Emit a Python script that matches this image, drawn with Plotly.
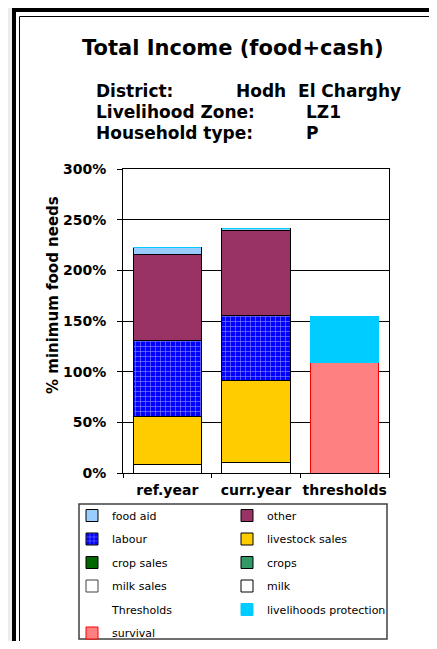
import plotly.graph_objects as go

# ---------------- data ----------------
categories = ["ref.year", "curr.year", "thresholds"]
milk = [8, 10, 0]
milk_sales = [0, 0, 0]
crops = [0, 0, 0]
crop_sales = [0, 0, 0]
livestock_sales = [48, 81, 0]
labour = [75, 64, 0]
other = [85, 84, 0]
food_aid = [7, 2, 0]
survival = [0, 0, 109]
livelihoods_protection = [0, 0, 45]
thresholds_dummy = [0, 0, 0]
y_ticks = [0, 50, 100, 150, 200, 250, 300]
y_tick_labels = ["0%", "50%", "100%", "150%", "200%", "250%", "300%"]

# ---------------- geometry helpers ----------------
# page offset of the figure inside the browser body (default 8px body margin)
OFF = 8
W, H = 437 - OFF, 649 - 2 * OFF
# plot area in page pixels
PL, PR, PT, PB = 123, 389, 169, 473
L, R, T, B = PL - OFF, PR - OFF, PT - OFF, PB - OFF


def px(x):
    """page x pixel -> paper coordinate"""
    return (x - OFF - L) / (R - L)


def py(y):
    """page y pixel -> paper coordinate"""
    return (B - (y - OFF)) / (B - T)


FONT = "DejaVu Sans, Liberation Sans, Arial"

fig = go.Figure()


def add_bar(name, values, color, line_color="#000000", line_width=1,
            legend="legend", rank=1, pattern=None):
    marker = dict(color=color, line=dict(color=line_color, width=line_width))
    if pattern is not None:
        marker["pattern"] = pattern
    fig.add_trace(go.Bar(
        x=categories, y=values, name=name, marker=marker,
        legend=legend, legendrank=rank, legendgroup=name,
        hoverinfo="skip",
    ))


# stacking order (bottom -> top)
add_bar("milk", milk, "#ffffff", legend="legend2", rank=4)
add_bar("milk sales", milk_sales, "#ffffff", line_color="#404040", legend="legend", rank=4)
add_bar("crops", crops, "#339966", legend="legend2", rank=3)
add_bar("crop sales", crop_sales, "#006600", legend="legend", rank=3)
add_bar("livestock sales", livestock_sales, "#ffcc00", legend="legend2", rank=2)
add_bar("labour", labour, "#0000ff", legend="legend", rank=2,
        pattern=dict(shape="+", fgcolor="#ffffff", bgcolor="#0000ff",
                     size=5, solidity=0.25))
add_bar("other", other, "#993366", legend="legend2", rank=1)
add_bar("food aid", food_aid, "#99ccff", legend="legend", rank=1)
add_bar("Thresholds", thresholds_dummy, "rgba(0,0,0,0)", line_color="rgba(0,0,0,0)",
        line_width=0, legend="legend", rank=5)
add_bar("survival", survival, "#ff8080", line_color="#ff0000", legend="legend", rank=6)
add_bar("livelihoods protection", livelihoods_protection, "#00ccff",
        line_color="#00ccff", legend="legend2", rank=5)

legend_common = dict(
    xref="container", yref="container",
    xanchor="left", yanchor="top",
    orientation="v", traceorder="grouped", tracegroupgap=4.5,
    bgcolor="rgba(0,0,0,0)", borderwidth=0,
    font=dict(family=FONT, size=11, color="#000000"),
    itemclick=False, itemdoubleclick=False,
)

shapes = [
    # white sheet with double frame
    dict(type="rect", xref="paper", yref="paper",
         x0=px(14), x1=px(480), y0=py(10), y1=py(700),
         fillcolor="#ffffff", line=dict(color="#000000", width=4), layer="below"),
    dict(type="rect", xref="paper", yref="paper",
         x0=px(19.5), x1=px(480), y0=py(16.5), y1=py(700),
         fillcolor="rgba(0,0,0,0)", line=dict(color="#000000", width=1), layer="below"),
    # legend box
    dict(type="rect", xref="paper", yref="paper",
         x0=px(79), x1=px(387), y0=py(504), y1=py(639),
         fillcolor="rgba(0,0,0,0)", line=dict(color="#404040", width=1.5), layer="below"),
]

annotations = [
    dict(text="Total Income (food+cash)", x=px(233), y=py(48), xanchor="center",
         yanchor="middle", font=dict(family=FONT, size=21, color="#000000", weight="bold")),
    dict(text="District:", x=px(94), y=py(91), xanchor="left", yanchor="middle",
         font=dict(family=FONT, size=17, color="#000000", weight="bold")),
    dict(text="Hodh\u00a0 El Charghy", x=px(234), y=py(91), xanchor="left", yanchor="middle",
         font=dict(family=FONT, size=17, color="#000000", weight="bold")),
    dict(text="Livelihood Zone:", x=px(94), y=py(112), xanchor="left", yanchor="middle",
         font=dict(family=FONT, size=17, color="#000000", weight="bold")),
    dict(text="LZ1", x=px(304), y=py(112), xanchor="left", yanchor="middle",
         font=dict(family=FONT, size=17, color="#000000", weight="bold")),
    dict(text="Household type:", x=px(94), y=py(133), xanchor="left", yanchor="middle",
         font=dict(family=FONT, size=17, color="#000000", weight="bold")),
    dict(text="P", x=px(304), y=py(133), xanchor="left", yanchor="middle",
         font=dict(family=FONT, size=17, color="#000000", weight="bold")),
    dict(text="% minimum food needs", x=px(53), y=py(295), xanchor="center",
         yanchor="middle", textangle=-90,
         font=dict(family=FONT, size=15, color="#000000", weight="bold")),
]
for a in annotations:
    a.update(xref="paper", yref="paper", showarrow=False)

fig.update_layout(
    width=W, height=H,
    margin=dict(l=L, r=W - R, t=T, b=H - B, pad=0, autoexpand=False),
    paper_bgcolor="#ececec", plot_bgcolor="#ffffff",
    barmode="stack", bargap=0.23,
    showlegend=True,
    legend=dict(legend_common, x=(72 - OFF) / W, y=1 - (501 - OFF) / H),
    legend2=dict(legend_common, x=(227 - OFF) / W, y=1 - (501 - OFF) / H),
    shapes=shapes, annotations=annotations,
    xaxis=dict(
        type="category", showline=True, linecolor="#000000", linewidth=1, mirror=True,
        ticks="outside", tickson="boundaries", ticklen=4, tickcolor="#000000",
        showgrid=False, tickangle=0, ticklabelstandoff=4,
        tickfont=dict(family=FONT, size=14, color="#000000", weight="bold"),
        fixedrange=True,
    ),
    yaxis=dict(
        range=[0, 300], tickmode="array", tickvals=y_ticks, ticktext=y_tick_labels,
        showline=True, linecolor="#000000", linewidth=1, mirror=True,
        showgrid=True, gridcolor="#000000", gridwidth=1, zeroline=False,
        ticks="outside", ticklen=5, tickcolor="#000000", ticklabelstandoff=8,
        tickfont=dict(family=FONT, size=14, color="#000000", weight="bold"),
        fixedrange=True,
    ),
)

fig.write_html("out.html")
